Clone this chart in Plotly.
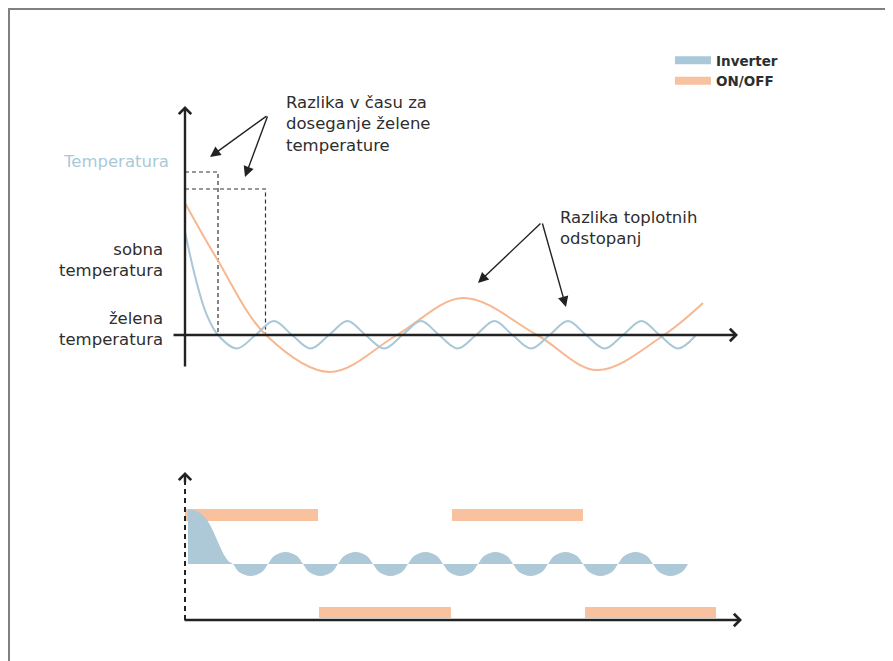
import plotly.graph_objects as go

# ---------------- data ----------------
# Top diagram: time t (arbitrary units) vs room temperature T relative to the set point (arbitrary units)
inverter_t = [0.0, 1.1, 2.1, 3.3, 5.2, 7.05, 8.9, 10.7, 12.55, 14.4, 16.25, 18.05, 19.9, 21.75,
              23.6, 25.4, 27.25, 29.1, 30.95, 32.75, 34.6, 36.45, 38.3, 40.1, 41.95, 43.8,
              45.65, 47.45, 49.3, 51.1]
inverter_T = [10.3, 5.5, 2.2, 0.0, -1.35, 0.0, 1.4, 0.0, -1.35, 0.0, 1.4, 0.0, -1.35, 0.0,
              1.4, 0.0, -1.35, 0.0, 1.4, 0.0, -1.35, 0.0, 1.4, 0.0, -1.35, 0.0,
              1.4, 0.0, -1.35, 0.0]

onoff_t = [0.0, 3.2, 8.1, 14.5, 21.2, 27.8, 35.2, 41.2, 47.9, 51.8]
onoff_T = [13.2, 7.6, 0.0, -3.7, 0.0, 3.7, 0.0, -3.5, 0.0, 3.2]

# time needed to reach the set point (dashed guides)
reach_t = [3.3, 8.05]
reach_level = [16.3, 14.6]

# Bottom diagram: compressor output P (arbitrary units) vs time
inverter_power_t = [0.3, 1.0, 1.7, 2.3, 2.9, 3.4, 4.0, 4.4, 4.8,
                    5.4, 6.55, 7.7, 8.3, 8.9, 10.05, 11.2, 11.8,
                    12.4, 13.55, 14.7, 15.3, 15.9, 17.05, 18.2, 18.8,
                    19.4, 20.55, 21.7, 22.3, 22.9, 24.05, 25.2, 25.8,
                    26.4, 27.55, 28.7, 29.3, 29.9, 31.05, 32.2, 32.8,
                    33.4, 34.55, 35.7, 36.3, 36.9, 38.05, 39.2, 39.8,
                    40.4, 41.55, 42.7, 43.3, 43.9, 45.05, 46.2, 46.8,
                    47.4, 48.55, 49.7, 50.3]
inverter_power = [5.5, 5.35, 4.95, 4.25, 3.1, 1.95, 0.75, 0.25, 0.0,
                  -0.8, -1.2, -0.8, 0.0, 0.8, 1.2, 0.8, 0.0,
                  -0.8, -1.2, -0.8, 0.0, 0.8, 1.2, 0.8, 0.0,
                  -0.8, -1.2, -0.8, 0.0, 0.8, 1.2, 0.8, 0.0,
                  -0.8, -1.2, -0.8, 0.0, 0.8, 1.2, 0.8, 0.0,
                  -0.8, -1.2, -0.8, 0.0, 0.8, 1.2, 0.8, 0.0,
                  -0.8, -1.2, -0.8, 0.0, 0.8, 1.2, 0.8, 0.0,
                  -0.8, -1.2, -0.8, 0.0]

onoff_level = [4.9, 4.9, -4.85, -4.85]
onoff_start = [0.0, 26.7, 13.4, 40.0]
onoff_end = [13.3, 39.8, 26.6, 53.1]

series_names = ["Inverter", "ON/OFF"]

# ---------------- styles ----------------
BLUE = "#a8c7d7"
BLUE_FILL = "#adc9d7"
ORANGE = "#f7b791"
ORANGE_BAR = "#f9c29f"
INK = "#222222"
TXT = "#2e2e2e"
FONT = "DejaVu Sans"
FS = 16.5

fig = go.Figure()

# bottom diagram ---------------------------------------------------
fig.add_trace(go.Bar(
    orientation="h", y=onoff_level, base=onoff_start,
    x=[e - s for s, e in zip(onoff_start, onoff_end)],
    width=[1.2, 1.2, 1.1, 1.1], marker=dict(color=ORANGE_BAR, line=dict(width=0)),
    yaxis="y2", showlegend=False, hoverinfo="skip"))

fig.add_trace(go.Scatter(
    x=inverter_power_t, y=inverter_power, mode="lines", line=dict(color=BLUE_FILL, width=0, shape="spline"),
    fill="tozeroy", fillcolor=BLUE_FILL, yaxis="y2", showlegend=False, hoverinfo="skip"))

# dashed power axis
fig.add_trace(go.Scatter(
    x=[0, 0], y=[-5.6, 8.6], mode="lines", line=dict(color=INK, width=2, dash="5px,4px"),
    yaxis="y2", showlegend=False, hoverinfo="skip"))

# top diagram ------------------------------------------------------
for lt, lv in zip(reach_t, reach_level):
    fig.add_trace(go.Scatter(
        x=[0, lt, lt], y=[lv, lv, 0], mode="lines",
        line=dict(color="#333333", width=1.2, dash="4px,3px"),
        showlegend=False, hoverinfo="skip"))

fig.add_trace(go.Scatter(
    x=onoff_t, y=onoff_T, mode="lines", line=dict(color=ORANGE, width=2, shape="spline"),
    showlegend=False, hoverinfo="skip"))
fig.add_trace(go.Scatter(
    x=inverter_t, y=inverter_T, mode="lines", line=dict(color=BLUE, width=2, shape="spline"),
    showlegend=False, hoverinfo="skip"))

# legend entries
for name, col in zip(series_names, ["#a9c8d9", "#f8c1a0"]):
    fig.add_trace(go.Scatter(x=[None], y=[None], mode="lines", name="<b>%s</b>" % name,
                             line=dict(color=col, width=8)))

annotations = []

def axis_arrow(x, y, ax, ay, yref="y", head=4, width=2.4, size=1.0, color=INK):
    annotations.append(dict(x=x, y=y, ax=ax, ay=ay, xref="x", yref=yref, axref="x", ayref=yref,
                            text="", showarrow=True, arrowhead=head, arrowwidth=width,
                            arrowsize=size, arrowcolor=color, standoff=0, startstandoff=0))

# axes of top diagram
axis_arrow(0, 22.9, 0, -3.3)
axis_arrow(55.3, 0, -1.3, 0)
# axes of bottom diagram
axis_arrow(55.7, -5.6, -0.2, -5.6, yref="y2")
axis_arrow(0, 9.2, 0, 8.0, yref="y2")

# call-out arrows
axis_arrow(2.5, 17.8, 8.3, 22.0, head=2, width=1.4, size=1.5)
axis_arrow(6.0, 15.8, 8.3, 22.0, head=2, width=1.4, size=1.5)
axis_arrow(29.3, 5.2, 35.7, 11.3, head=2, width=1.4, size=1.5)
axis_arrow(38.1, 2.8, 35.7, 11.3, head=2, width=1.4, size=1.5)

def label(x, y, text, anchor="left", color=TXT, size=FS):
    annotations.append(dict(x=x, y=y, xref="x", yref="y", text=text, showarrow=False,
                            xanchor=anchor, yanchor="middle", align=anchor,
                            font=dict(family=FONT, size=size, color=color)))

label(-1.4, 17.4, "Temperatura", anchor="right", color="#a9c9d9")
label(-2.0, 7.5, "sobna<br>temperatura", anchor="right")
label(-2.0, 0.6, "želena<br>temperatura", anchor="right")
label(9.9, 21.1, "Razlika v času za<br>doseganje želene<br>temperature")
label(37.3, 10.7, "Razlika toplotnih<br>odstopanj")

W, H = 885, 653   # page body keeps an 8 px margin
fig.update_layout(
    width=W, height=H,
    margin=dict(l=0, r=0, t=0, b=0),
    paper_bgcolor="white", plot_bgcolor="white",
    barmode="overlay",
    xaxis=dict(range=[-17.7, 70.8], visible=False, fixedrange=True),
    yaxis=dict(range=[-32.6, 32.7], visible=False, fixedrange=True),
    yaxis2=dict(range=[-9.7, 55.6], visible=False, fixedrange=True, overlaying="y"),
    showlegend=True,
    legend=dict(x=662 / W, y=1 - 37 / H, xanchor="left", yanchor="top",
                font=dict(family="DejaVu Sans", size=13.5, color=TXT),
                bgcolor="rgba(0,0,0,0)", tracegroupgap=0, itemwidth=36),
    annotations=annotations,
    shapes=[
        dict(type="line", xref="paper", yref="paper", x0=0, x1=1.02, y0=1 - 1 / H, y1=1 - 1 / H,
             line=dict(color="#808080", width=2)),
        dict(type="line", xref="paper", yref="paper", x0=1 / W, x1=1 / W, y0=-0.02, y1=1,
             line=dict(color="#808080", width=2)),
    ],
    hovermode=False,
)

fig.write_html("out.html", config={"displayModeBar": False, "staticPlot": True})
